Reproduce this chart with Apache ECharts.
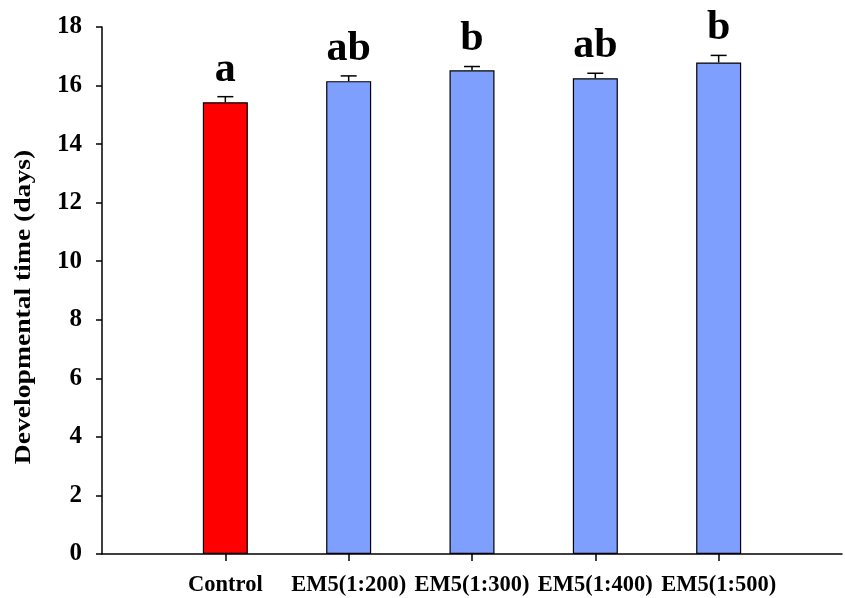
<!DOCTYPE html>
<html>
<head>
<meta charset="utf-8">
<script src="https://cdn.jsdelivr.net/npm/echarts@6/dist/echarts.min.js"></script>
<style>
  html, body { margin: 0; padding: 0; background: #fff; }
  #chart { width: 845px; height: 598px; }
</style>
</head>
<body>
<div id="chart"></div>
<script>
// Treatment groups and their mean developmental time (days) with standard error
const categories = ['Control', 'EM5(1:200)', 'EM5(1:300)', 'EM5(1:400)', 'EM5(1:500)'];
const means = [15.43, 16.15, 16.52, 16.25, 16.79];
const stdErr = [0.19, 0.18, 0.13, 0.17, 0.24];
const letters = ['a', 'ab', 'b', 'ab', 'b'];
const yTicks = [0, 2, 4, 6, 8, 10, 12, 14, 16, 18];

const FONT = '"Liberation Serif", "Times New Roman", serif';
const barColors = ['#ff0000', '#7f9fff', '#7f9fff', '#7f9fff', '#7f9fff'];

// empty slots at both ends give the axis its extra space left and right
const axisCats = [''].concat(categories, ['']);

const chart = echarts.init(document.getElementById('chart'), null, { renderer: 'canvas' });

chart.setOption({
  animation: false,
  backgroundColor: '#ffffff',
  // the plot runs past the right edge of the canvas, so the x axis line is cut there
  grid: { left: 102, width: 756, top: 27, bottom: 44, containLabel: false },
  xAxis: {
    type: 'category',
    data: axisCats,
    boundaryGap: false,
    axisLine: { lineStyle: { color: '#000', width: 1.5 } },
    axisTick: {
      inside: false, length: 7,
      interval: function (idx) { return idx > 0 && idx < axisCats.length - 1; },
      lineStyle: { color: '#000', width: 1.5 }
    },
    axisLabel: {
      interval: 0, margin: 20, color: '#000',
      fontFamily: FONT, fontWeight: 'bold', fontSize: 22.5
    },
    splitLine: { show: false }
  },
  yAxis: {
    type: 'value',
    min: yTicks[0], max: yTicks[yTicks.length - 1], interval: 2,
    axisLine: { show: true, lineStyle: { color: '#000', width: 1.5 } },
    axisTick: { show: true, inside: false, length: 6, lineStyle: { color: '#000', width: 1.5 } },
    axisLabel: {
      margin: 20, color: '#000',
      fontFamily: FONT, fontWeight: 'bold', fontSize: 25
    },
    splitLine: { show: false }
  },
  graphic: [{
    type: 'text',
    x: 24, y: 307,
    rotation: Math.PI / 2,
    scaleX: 1.2,
    style: {
      text: 'Developmental time (days)',
      font: 'bold 23px ' + FONT,
      fill: '#000',
      align: 'center',
      verticalAlign: 'middle'
    }
  }],
  series: [
    {
      type: 'bar',
      barWidth: 45,
      data: categories.map(function (c, i) {
        return {
          value: [c, means[i]],
          itemStyle: { color: barColors[i], borderColor: '#000', borderWidth: 1.2 }
        };
      }),
      z: 2
    },
    {
      // upper error bar with cap and the significance letter above it
      type: 'custom',
      data: categories.map(function (c, i) { return [c, means[i], stdErr[i], i]; }),
      encode: { x: 0, y: 1 },
      z: 3,
      renderItem: function (params, api) {
        const base = api.coord([api.value(0), api.value(1)]);
        const top = api.coord([api.value(0), api.value(1) + api.value(2)]);
        const half = 8;
        const idx = api.value(3);
        return {
          type: 'group',
          children: [
            { type: 'line', shape: { x1: base[0], y1: base[1], x2: top[0], y2: top[1] },
              style: { stroke: '#000', lineWidth: 1.5 } },
            { type: 'line', shape: { x1: top[0] - half, y1: top[1], x2: top[0] + half, y2: top[1] },
              style: { stroke: '#000', lineWidth: 1.5 } },
            { type: 'text', x: top[0], y: top[1] - 6,
              style: { text: letters[idx], font: 'bold 42px ' + FONT, fill: '#000',
                       align: 'center', verticalAlign: 'bottom' } }
          ]
        };
      }
    }
  ]
});
</script>
</body>
</html>
